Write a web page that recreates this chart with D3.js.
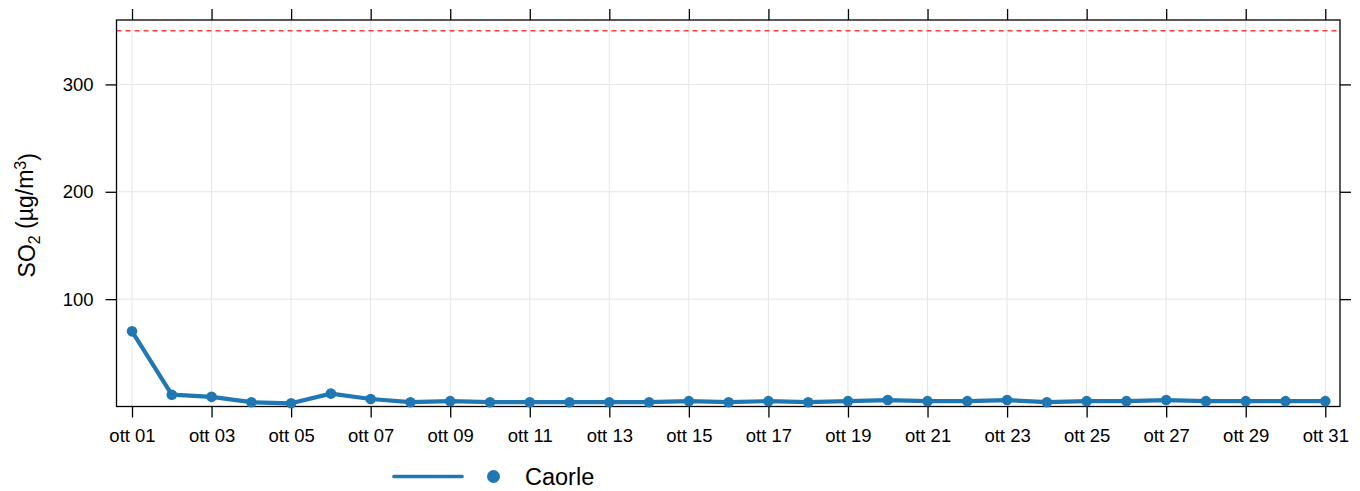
<!DOCTYPE html>
<html><head><meta charset="utf-8">
<script src="https://cdn.jsdelivr.net/npm/d3@7"></script>
<style>body{margin:0;background:#fff;} svg{display:block;font-family:"Liberation Sans",Arial,sans-serif;}</style>
</head><body>
<script>
const days = d3.range(1, 32);
const caorle = [70, 11, 9, 4, 3, 12, 7, 4, 5, 4, 4, 4, 4, 4, 5, 4, 5, 4, 5, 6, 5, 5, 6, 4, 5, 5, 6, 5, 5, 5, 5];
const seriesName = "Caorle";
const limitValue = 350;
const xTickDays = [1,3,5,7,9,11,13,15,17,19,21,23,25,27,29,31];
const xTickLabels = ["ott 01","ott 03","ott 05","ott 07","ott 09","ott 11","ott 13","ott 15","ott 17","ott 19","ott 21","ott 23","ott 25","ott 27","ott 29","ott 31"];
const yTicks = [100, 200, 300];

(function () {
const W = 1360, H = 491;
const L = 116.5, R = 1340, T = 20, B = 406.5;
const color = "#1f78b4";

const svg = d3.select("body").append("svg").attr("width", W).attr("height", H);
const x = d3.scaleLinear().domain([0.61, 31.37]).range([L, R]);
const y = d3.scaleLinear().domain([0, 360]).range([B, T]);

const g = svg.append("g");
g.selectAll(".vg").data(xTickDays).join("line")
  .attr("x1", d => x(d)).attr("x2", d => x(d)).attr("y1", T).attr("y2", B)
  .attr("stroke", "#e6e6e6").attr("stroke-width", 1);
g.selectAll(".hg").data(yTicks).join("line")
  .attr("x1", L).attr("x2", R).attr("y1", d => y(d)).attr("y2", d => y(d))
  .attr("stroke", "#e6e6e6").attr("stroke-width", 1);

svg.append("line").attr("x1", L).attr("x2", R).attr("y1", y(limitValue)).attr("y2", y(limitValue))
  .attr("stroke", "#ff3b3b").attr("stroke-width", 1.5).attr("stroke-dasharray", "5,4");

const fmt = d => xTickLabels[xTickDays.indexOf(d)];
const axB = svg.append("g").attr("transform", `translate(0,${B})`)
  .call(d3.axisBottom(x).tickValues(xTickDays).tickFormat(fmt).tickSize(11).tickPadding(11));
const axT = svg.append("g").attr("transform", `translate(0,${T})`)
  .call(d3.axisTop(x).tickValues(xTickDays).tickFormat("").tickSize(11));
const axL = svg.append("g").attr("transform", `translate(${L},0)`)
  .call(d3.axisLeft(y).tickValues(yTicks).tickSize(11).tickPadding(12));
const axR = svg.append("g").attr("transform", `translate(${R},0)`)
  .call(d3.axisRight(y).tickValues(yTicks).tickFormat("").tickSize(11));
[axB, axT, axL, axR].forEach(a => {
  a.select(".domain").remove();
  a.selectAll("line").attr("stroke", "#000").attr("stroke-width", 1.3);
  a.selectAll("text").attr("fill", "#000").style("font-size", "18.5px");
});
axB.selectAll("text").attr("dy", "0.75em");

svg.append("rect").attr("x", L).attr("y", T).attr("width", R - L).attr("height", B - T)
  .attr("fill", "none").attr("stroke", "#000").attr("stroke-width", 1.3);

const line = d3.line().x((d, i) => x(days[i])).y(d => y(d));
svg.append("path").datum(caorle).attr("d", line).attr("fill", "none")
  .attr("stroke", color).attr("stroke-width", 4.2).attr("stroke-linejoin", "round");
svg.selectAll(".pt").data(caorle).join("circle")
  .attr("cx", (d, i) => x(days[i])).attr("cy", d => y(d)).attr("r", 5.3).attr("fill", color);

const yt = svg.append("text").attr("transform", `translate(35,${(T + B) / 2 + 2}) rotate(-90)`)
  .attr("text-anchor", "middle").style("font-size", "23px").attr("fill", "#000");
yt.append("tspan").text("SO");
yt.append("tspan").text("2").attr("dy", "0.3em").style("font-size", "16px");
yt.append("tspan").text(" (µg/m").attr("dy", "-0.3em");
yt.append("tspan").text("3").attr("dy", "-0.45em").style("font-size", "16px");
yt.append("tspan").text(")").attr("dy", "0.45em");

const lg = svg.append("g");
lg.append("line").attr("x1", 394).attr("x2", 462).attr("y1", 476.5).attr("y2", 476.5)
  .attr("stroke", color).attr("stroke-width", 3.6).attr("stroke-linecap", "round");
lg.append("circle").attr("cx", 493.5).attr("cy", 476.5).attr("r", 6.5).attr("fill", color);
lg.append("text").attr("x", 525).attr("y", 485).text(seriesName).style("font-size", "23.5px").attr("fill", "#000");
})();
</script>
</body></html>
